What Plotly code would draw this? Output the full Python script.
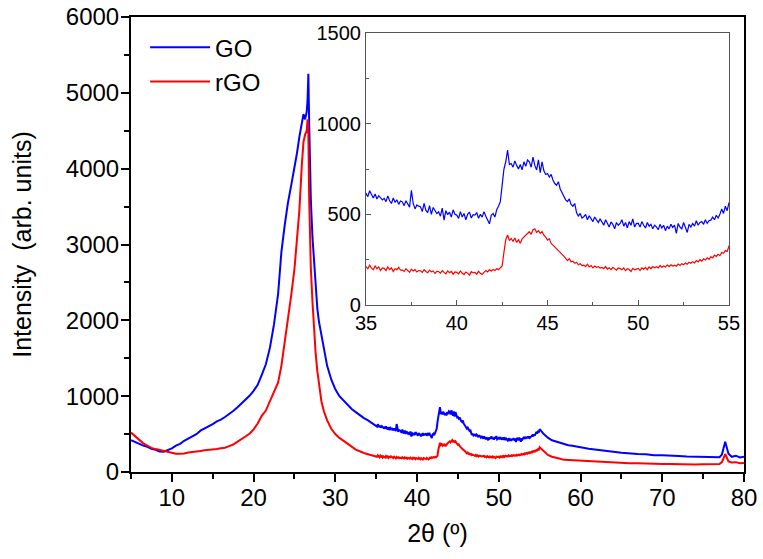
import plotly.graph_objects as go

# ---- data (2theta in degrees, intensity in arb. units) ----

# 5 - 21 deg, coarse
seg_a_x = [5.0, 5.5, 6.0, 6.5, 7.0, 7.5, 8.0, 8.5, 9.0, 9.5, 10.0, 10.5, 11.0, 11.5, 12.0, 12.5,
           13.0, 13.5, 14.0, 14.5, 15.0, 15.5, 16.0, 16.5, 17.0, 17.5, 18.0, 18.5, 19.0, 19.5, 20.0,
           20.5, 21.0]
seg_a_go = [420, 395, 372, 348, 332, 305, 292, 270, 268, 288, 312, 348, 372, 412, 438, 468,
            498, 545, 572, 610, 632, 668, 690, 725, 762, 805, 850, 900, 955, 1005, 1070,
            1150, 1280]
seg_a_rgo = [520, 468, 425, 378, 348, 318, 302, 288, 276, 260, 254, 242, 240, 243, 258, 262,
             274, 278, 288, 290, 300, 302, 314, 320, 342, 362, 398, 428, 468, 505, 562,
             640, 740]

# 21.5 - 29.5 deg, main (002) reflection
seg_b_x = [21.5, 22.0, 22.5, 23.0, 23.4, 23.8, 24.2, 24.6, 25.0, 25.3, 25.6, 25.9, 26.1, 26.3,
           26.5, 26.6, 26.7, 26.8, 26.9, 27.0, 27.2, 27.4, 27.6, 27.8, 28.0, 28.3, 28.6, 29.0, 29.5]
seg_b_go = [1420, 1640, 1950, 2350, 2900, 3250, 3550, 3780, 4000, 4200, 4420, 4600, 4720, 4650,
            4750, 4900, 5250, 4600, 4100, 3600, 3100, 2750, 2400, 2150, 1980, 1800, 1600, 1400, 1220]
seg_b_rgo = [810, 930, 1060, 1180, 1400, 1700, 2000, 2330, 2680, 3050, 3450, 4050, 4350, 4450,
             4500, 4650, 4450, 3600, 3150, 2700, 2250, 1880, 1550, 1330, 1150, 930, 800, 680, 570]

# 30 - 34.5 deg
seg_c_x = [30.0, 30.5, 31.0, 31.5, 32.0, 32.5, 33.0, 33.5, 34.0, 34.5]
seg_c_go = [1090, 1000, 940, 880, 830, 790, 745, 710, 680, 645]
seg_c_rgo = [500, 450, 415, 375, 335, 295, 270, 250, 235, 222]

# 35 - 54.9 deg, fine (region shown in the inset)
seg_d_x = [
    35.0, 35.1, 35.2, 35.3, 35.4, 35.5, 35.6, 35.7, 35.8, 35.9,
    36.0, 36.1, 36.2, 36.3, 36.4, 36.5, 36.6, 36.7, 36.8, 36.9,
    37.0, 37.1, 37.2, 37.3, 37.4, 37.5, 37.6, 37.7, 37.8, 37.9,
    38.0, 38.1, 38.2, 38.3, 38.4, 38.5, 38.6, 38.7, 38.8, 38.9,
    39.0, 39.1, 39.2, 39.3, 39.4, 39.5, 39.6, 39.7, 39.8, 39.9,
    40.0, 40.1, 40.2, 40.3, 40.4, 40.5, 40.6, 40.7, 40.8, 40.9,
    41.0, 41.1, 41.2, 41.3, 41.4, 41.5, 41.6, 41.7, 41.8, 41.9,
    42.0, 42.1, 42.2, 42.3, 42.4, 42.5, 42.6, 42.7, 42.8, 42.9,
    43.0, 43.1, 43.2, 43.3, 43.4, 43.5, 43.6, 43.7, 43.8, 43.9,
    44.0, 44.1, 44.2, 44.3, 44.4, 44.5, 44.6, 44.7, 44.8, 44.9,
    45.0, 45.1, 45.2, 45.3, 45.4, 45.5, 45.6, 45.7, 45.8, 45.9,
    46.0, 46.1, 46.2, 46.3, 46.4, 46.5, 46.6, 46.7, 46.8, 46.9,
    47.0, 47.1, 47.2, 47.3, 47.4, 47.5, 47.6, 47.7, 47.8, 47.9,
    48.0, 48.1, 48.2, 48.3, 48.4, 48.5, 48.6, 48.7, 48.8, 48.9,
    49.0, 49.1, 49.2, 49.3, 49.4, 49.5, 49.6, 49.7, 49.8, 49.9,
    50.0, 50.1, 50.2, 50.3, 50.4, 50.5, 50.6, 50.7, 50.8, 50.9,
    51.0, 51.1, 51.2, 51.3, 51.4, 51.5, 51.6, 51.7, 51.8, 51.9,
    52.0, 52.1, 52.2, 52.3, 52.4, 52.5, 52.6, 52.7, 52.8, 52.9,
    53.0, 53.1, 53.2, 53.3, 53.4, 53.5, 53.6, 53.7, 53.8, 53.9,
    54.0, 54.1, 54.2, 54.3, 54.4, 54.5, 54.6, 54.7, 54.8, 54.9,
]
seg_d_go = [
    615, 598, 630, 607, 590, 612, 585, 603, 594, 580,
    588, 570, 602, 575, 560, 590, 566, 580, 555, 574,
    569, 548, 575, 556, 540, 632, 560, 530, 552, 545,
    542, 515, 560, 522, 510, 548, 500, 538, 518, 505,
    514, 490, 535, 468, 520, 498, 512, 485, 525, 500,
    496, 478, 515, 485, 505, 470, 500, 512, 480, 498,
    496, 510, 478, 500, 485, 515, 490, 470, 448, 495,
    505, 485, 525, 545, 570, 660, 750, 790, 855, 775,
    780, 760, 795, 770, 750, 775, 745, 790, 765, 800,
    790, 760, 815, 770, 745, 800, 730, 790, 740, 720,
    725, 705, 720, 690, 670, 660, 680, 640, 620, 600,
    580, 570, 585, 555, 545, 560, 510, 490, 505, 480,
    487, 500, 470, 492, 478, 460, 485, 470, 455, 475,
    459, 440, 470, 452, 430, 458, 445, 420, 455, 440,
    450, 470, 435, 455, 425, 460, 440, 475, 430, 450,
    450, 430, 460, 440, 425, 455, 435, 445, 420, 440,
    431, 415, 445, 425, 440, 410, 435, 420, 445, 428,
    441, 395, 450, 430, 420, 455, 425, 400, 445, 430,
    450, 435, 465, 440, 455, 460, 445, 470, 450, 465,
    468, 485, 470, 495, 480, 500, 530, 505, 545, 520,
]
seg_d_rgo = [
    211, 200, 220, 205, 195, 215, 200, 210, 190, 205,
    202, 190, 210, 195, 205, 185, 200, 195, 208, 192,
    193, 185, 200, 190, 180, 198, 188, 195, 182, 190,
    189, 180, 195, 185, 178, 192, 183, 188, 175, 186,
    184, 176, 190, 180, 172, 188, 178, 185, 170, 182,
    180, 172, 188, 175, 168, 182, 176, 165, 184, 178,
    180, 170, 186, 175, 168, 180, 190, 182, 195, 188,
    196, 190, 200, 195, 205, 215, 290, 360, 386, 355,
    367, 350, 370, 345, 360, 340, 365, 375, 385, 395,
    404, 390, 415, 420, 400, 410, 395, 405, 385, 375,
    358, 365, 340, 330, 320, 312, 305, 290, 280, 270,
    257, 245, 255, 238, 242, 230, 236, 222, 228, 218,
    220, 212, 225, 210, 218, 205, 215, 208, 212, 204,
    207, 200, 212, 198, 205, 195, 208, 200, 192, 204,
    202, 195, 205, 190, 200, 196, 185, 202, 194, 198,
    202, 190, 205, 198, 208, 195, 210, 200, 212, 205,
    211, 205, 218, 208, 215, 210, 220, 212, 222, 215,
    220, 214, 226, 218, 228, 222, 232, 225, 236, 230,
    239, 232, 245, 238, 250, 242, 255, 248, 260, 252,
    266, 260, 275, 268, 280, 272, 290, 285, 300, 295,
]

# 55 - 80 deg
seg_e_x = [55.0, 55.5, 56.0, 56.5, 57.0, 57.5, 58.0, 58.5, 59.0, 59.5, 60.0, 61.0, 62.0, 63.0,
           64.0, 65.0, 66.0, 67.0, 68.0, 69.0, 70.0, 71.0, 72.0, 73.0, 74.0, 75.0, 76.0, 77.0,
           77.3, 77.5, 77.7, 77.9, 78.1, 78.5, 79.0, 79.5, 80.0]
seg_e_go = [565, 500, 452, 418, 402, 378, 366, 352, 346, 333, 326, 308, 297, 278,
            268, 253, 250, 238, 234, 222, 222, 212, 212, 203, 202, 193, 198, 194,
            230, 330, 400, 320, 240, 200, 215, 192, 200]
seg_e_rgo = [325, 280, 225, 202, 184, 174, 160, 157, 150, 149, 144, 139, 131, 129,
             124, 123, 117, 116, 109, 110, 104, 106, 101, 104, 99, 101, 102, 105,
             130, 190, 237, 190, 140, 125, 130, 115, 120]

two_theta = seg_a_x + seg_b_x + seg_c_x + seg_d_x + seg_e_x
go_int = seg_a_go + seg_b_go + seg_c_go + seg_d_go + seg_e_go
rgo_int = seg_a_rgo + seg_b_rgo + seg_c_rgo + seg_d_rgo + seg_e_rgo

BLUE = "#0000FF"
RED = "#FF0000"
FONT = "Arial, Liberation Sans, sans-serif"

fig = go.Figure()

# main panel
fig.add_trace(go.Scatter(x=two_theta, y=go_int, mode="lines", name="GO",
                         line=dict(color=BLUE, width=2)))
fig.add_trace(go.Scatter(x=two_theta, y=rgo_int, mode="lines", name="rGO",
                         line=dict(color=RED, width=2)))

# inset (same data, zoomed to 35-55 deg)
fig.add_trace(go.Scatter(x=two_theta, y=go_int, mode="lines", showlegend=False,
                         line=dict(color=BLUE, width=1.2), xaxis="x2", yaxis="y2"))
fig.add_trace(go.Scatter(x=two_theta, y=rgo_int, mode="lines", showlegend=False,
                         line=dict(color=RED, width=1.2), xaxis="x2", yaxis="y2"))

fig.update_layout(
    width=763, height=559,
    margin=dict(l=131, r=19, t=17, b=87, autoexpand=False),
    paper_bgcolor="white", plot_bgcolor="white",
    font=dict(family=FONT, size=26, color="black"),
    showlegend=True,
    legend=dict(x=0.023, y=0.982, xanchor="left", yanchor="top",
                bgcolor="rgba(0,0,0,0)", font=dict(size=24),
                itemwidth=60, tracegroupgap=0),
    xaxis=dict(
        range=[5, 80], domain=[0, 1], automargin=False,
        showline=True, linecolor="black", linewidth=2, mirror=True,
        ticks="outside", tickwidth=2, ticklen=8, tickcolor="black",
        tick0=0, dtick=10, showgrid=False, zeroline=False,
        minor=dict(ticks="outside", dtick=5, tick0=0, ticklen=5, tickwidth=1.5, tickcolor="black"),
        title=dict(text="2θ (º)", standoff=15, font=dict(size=25)),
        tickfont=dict(size=24), ticklabelstandoff=-5, ticklabeloverflow="allow",
    ),
    yaxis=dict(
        range=[0, 6000], domain=[0, 1], automargin=False,
        showline=True, linecolor="black", linewidth=2, mirror=True,
        ticks="outside", tickwidth=2, ticklen=8, tickcolor="black",
        tick0=0, dtick=1000, showgrid=False, zeroline=False,
        minor=dict(ticks="outside", dtick=500, tick0=0, ticklen=5, tickwidth=1.5, tickcolor="black"),
        title=dict(text="Intensity  (arb. units)", standoff=27, font=dict(size=25)),
        tickfont=dict(size=24), ticklabelstandoff=-3, ticklabeloverflow="allow",
    ),
    xaxis2=dict(
        anchor="y2", domain=[0.3834, 0.9755], range=[35, 55], automargin=False,
        showline=True, linecolor="#555555", linewidth=1.2, mirror=True,
        ticks="inside", ticklen=5, tickwidth=1, tickcolor="#555555",
        tick0=0, dtick=5, showgrid=False, zeroline=False,
        minor=dict(ticks="inside", dtick=2.5, tick0=0, ticklen=3, tickwidth=1, tickcolor="#555555"),
        tickfont=dict(size=20),
    ),
    yaxis2=dict(
        anchor="x2", domain=[0.367, 0.9648], range=[0, 1500], automargin=False,
        showline=True, linecolor="#555555", linewidth=1.2, mirror=True,
        ticks="inside", ticklen=5, tickwidth=1, tickcolor="#555555",
        tick0=0, dtick=500, showgrid=False, zeroline=False,
        minor=dict(ticks="inside", dtick=250, tick0=0, ticklen=3, tickwidth=1, tickcolor="#555555"),
        tickfont=dict(size=20),
    ),
)

# drop the default 8px page margin so the figure fills the window exactly
fig.write_html("out.html", config={"displayModeBar": False},
               post_script="document.body.style.margin = '0';")
